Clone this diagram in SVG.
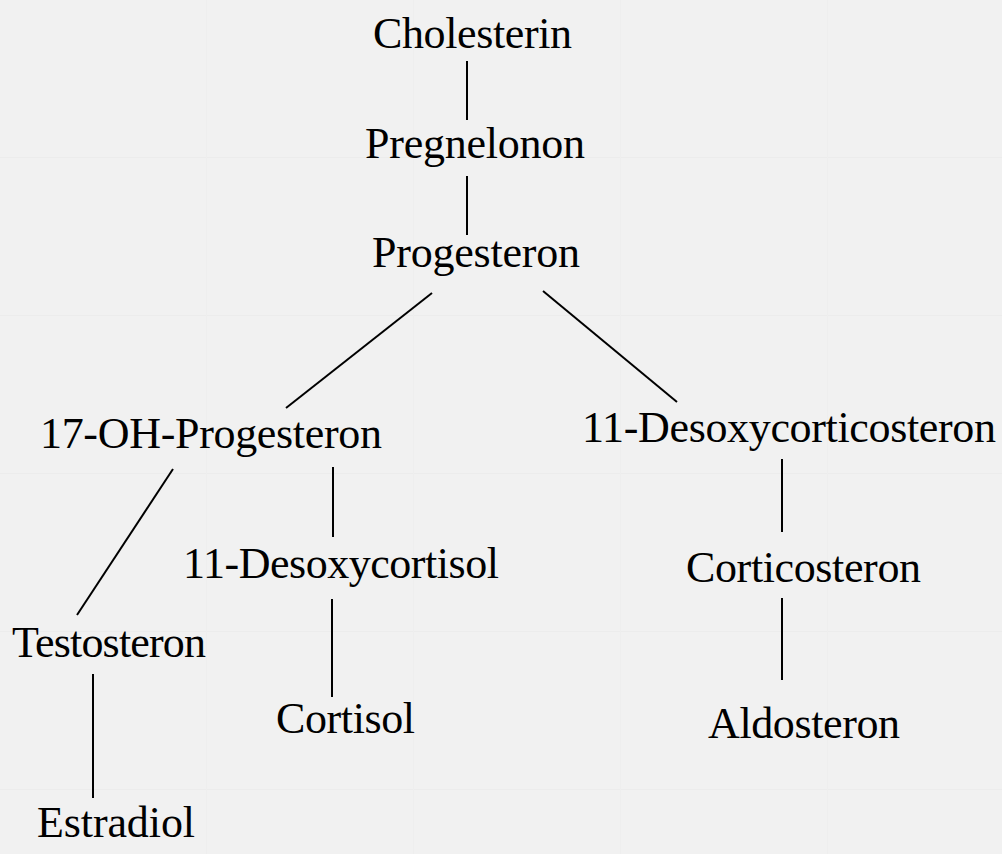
<svg xmlns="http://www.w3.org/2000/svg" width="1002" height="854" viewBox="0 0 1002 854">
<style>
.lbl{font-family:"Liberation Serif","Times New Roman",serif;font-size:44px;fill:#000}
.ln{stroke:#000;stroke-width:2;fill:none}
</style>
<defs>
<pattern id="bg" width="207" height="158" patternUnits="userSpaceOnUse">
<rect width="207" height="158" fill="#f1f1f1"/>
<line x1="0" y1="157.5" x2="207" y2="157.5" stroke="#ececec" stroke-width="1"/>
<line x1="206.5" y1="0" x2="206.5" y2="158" stroke="#eeeeee" stroke-width="1"/>
</pattern>
</defs>
<rect width="1002" height="854" fill="url(#bg)"/>
<g id="connectors">
<line class="ln" x1="467" y1="61" x2="467" y2="120"/>
<line class="ln" x1="467" y1="176" x2="467" y2="235"/>
<line class="ln" x1="432" y1="293" x2="286" y2="408"/>
<line class="ln" x1="543" y1="291" x2="677" y2="402"/>
<line class="ln" x1="173" y1="469" x2="77" y2="615"/>
<line class="ln" x1="333" y1="467" x2="333" y2="537"/>
<line class="ln" x1="332" y1="599" x2="332" y2="697"/>
<line class="ln" x1="93" y1="674" x2="93" y2="798"/>
<line class="ln" x1="782" y1="459" x2="782" y2="532"/>
<line class="ln" x1="782" y1="598" x2="782" y2="680"/>
</g>
<g id="n-cholesterin"><text class="lbl" x="373" y="48" textLength="199" lengthAdjust="spacing">Cholesterin</text></g>
<g id="n-pregnelonon"><text class="lbl" x="365" y="158" textLength="220" lengthAdjust="spacing">Pregnelonon</text></g>
<g id="n-progesteron"><text class="lbl" x="372" y="267" textLength="208" lengthAdjust="spacing">Progesteron</text></g>
<g id="n-17oh"><text class="lbl" x="40" y="448" textLength="342" lengthAdjust="spacing">17-OH-Progesteron</text></g>
<g id="n-11doc"><text class="lbl" x="582" y="442" textLength="414" lengthAdjust="spacing">11-Desoxycorticosteron</text></g>
<g id="n-11dcortisol"><text class="lbl" x="183" y="578" textLength="316" lengthAdjust="spacing">11-Desoxycortisol</text></g>
<g id="n-corticosteron"><text class="lbl" x="686" y="582" textLength="235" lengthAdjust="spacing">Corticosteron</text></g>
<g id="n-testosteron"><text class="lbl" x="12" y="657" textLength="194" lengthAdjust="spacing">Testosteron</text></g>
<g id="n-cortisol"><text class="lbl" x="276" y="733" textLength="139" lengthAdjust="spacing">Cortisol</text></g>
<g id="n-aldosteron"><text class="lbl" x="708" y="738" textLength="192" lengthAdjust="spacing">Aldosteron</text></g>
<g id="n-estradiol"><text class="lbl" x="37" y="837" textLength="158" lengthAdjust="spacing">Estradiol</text></g>
</svg>
